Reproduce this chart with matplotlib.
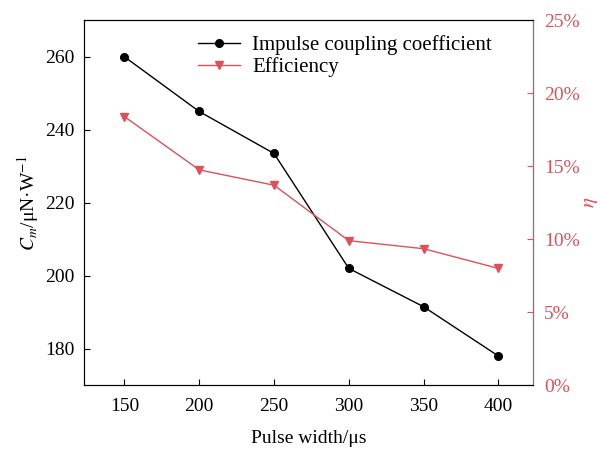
import numpy as np
import matplotlib.pyplot as plt

plt.rcParams['font.family'] = ['Liberation Serif', 'DejaVu Serif']
plt.rcParams['mathtext.fontset'] = 'stix'

pulse_width = np.array([150, 200, 250, 300, 350, 400])
cm = np.array([260, 245, 233.5, 202, 191.5, 178])
efficiency = np.array([18.4, 14.75, 13.7, 9.9, 9.35, 8.0])

red = '#e0505a'

fig, ax = plt.subplots(figsize=(6, 4.5), dpi=100)
fig.subplots_adjust(left=0.14, right=0.888, top=0.955, bottom=0.144)

l1, = ax.plot(pulse_width, cm, color='black', marker='o', markersize=5.5,
              linewidth=1, label='Impulse coupling coefficient')
ax.set_xlim(123, 423)
ax.set_ylim(170, 270)
ax.set_xticks(pulse_width)
ax.set_yticks([180, 200, 220, 240, 260])
ax.set_xlabel('Pulse width/μs', fontsize=14, labelpad=11)
ax.set_ylabel('$C_m$/μN·W$^{-1}$', fontsize=14, labelpad=3)
ax.tick_params(direction='in', labelsize=14, length=4)
ax.tick_params(axis='x', pad=9)
ax.tick_params(axis='y', pad=7)

ax2 = ax.twinx()
l2, = ax2.plot(pulse_width, efficiency, color=red, marker='v', markersize=6,
               linewidth=1, label='Efficiency')
ax2.set_ylim(0, 25)
ax2.set_yticks([0, 5, 10, 15, 20, 25])
ax2.set_yticklabels([f'{v}%' for v in [0, 5, 10, 15, 20, 25]])
ax2.set_ylabel(r'$\eta$', fontsize=15, color=red, labelpad=1)
ax2.tick_params(axis='y', direction='in', labelsize=14, colors=red, length=4, pad=8)
ax2.spines['right'].set_color(red)

ax.legend(handles=[l1, l2], loc='upper left', bbox_to_anchor=(0.212, 1.01),
          frameon=False, fontsize=15, handlelength=2, labelspacing=0.1,
          handletextpad=0.6)

plt.savefig('out.png')
